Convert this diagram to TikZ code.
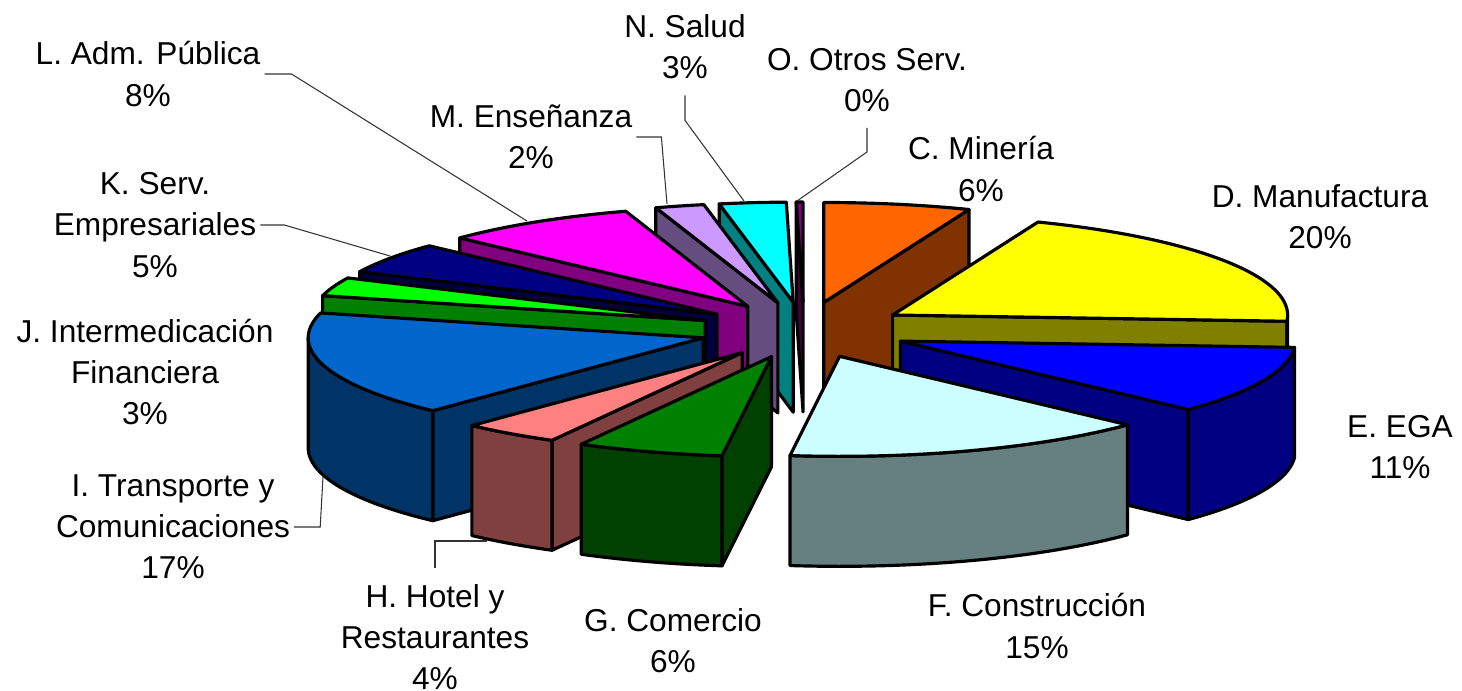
\documentclass[tikz,border=0pt]{standalone}
\usepackage{fontspec}
\setmainfont{Liberation Sans}
\usetikzlibrary{calc}

% slice colours: top face / side face
\definecolor{minTop}{HTML}{FF6600}  \definecolor{minSide}{HTML}{803300}
\definecolor{manTop}{HTML}{FFFF00}  \definecolor{manSide}{HTML}{808000}
\definecolor{egaTop}{HTML}{0000FF}  \definecolor{egaSide}{HTML}{000080}
\definecolor{conTop}{HTML}{CCFFFF}  \definecolor{conSide}{HTML}{668080}
\definecolor{comTop}{HTML}{008000}  \definecolor{comSide}{HTML}{004000}
\definecolor{hotTop}{HTML}{FF8080}  \definecolor{hotSide}{HTML}{804040}
\definecolor{traTop}{HTML}{0066CC}  \definecolor{traSide}{HTML}{003366}
\definecolor{finTop}{HTML}{00FF00}  \definecolor{finSide}{HTML}{008000}
\definecolor{empTop}{HTML}{000080}  \definecolor{empSide}{HTML}{000040}
\definecolor{admTop}{HTML}{FF00FF}  \definecolor{admSide}{HTML}{800080}
\definecolor{ensTop}{HTML}{CC99FF}  \definecolor{ensSide}{HTML}{664D80}
\definecolor{salTop}{HTML}{00FFFF}  \definecolor{salSide}{HTML}{008080}
\definecolor{otrTop}{HTML}{800080}  \definecolor{otrSide}{HTML}{400040}

% apex of an exploded slice, from its two angles
\newcommand{\setapex}[2]{%
  \pgfmathsetmacro{\ox}{804+105*cos((#1+#2)/2)}%
  \pgfmathsetmacro{\oy}{330+28*sin((#1+#2)/2)}}
% cut face of a slice at one angle
\newcommand{\cutface}[2]{%
  \filldraw[pie, fill=#2] (\ox,\oy) -- ++({395*cos(#1)},{100*sin(#1)}) -- ++(0,110) -- (\ox,{\oy+110}) -- cycle;}
% outer wall between two angles
\newcommand{\rimwall}[3]{%
  \filldraw[pie, fill=#3] plot[domain=#1:#2] ({\ox+395*cos(\x)},{\oy+100*sin(\x)})
    -- plot[domain=#2:#1] ({\ox+395*cos(\x)},{\oy+110+100*sin(\x)}) -- cycle;}
% top face between two angles
\newcommand{\topface}[3]{%
  \filldraw[pie, fill=#3] (\ox,\oy) -- plot[domain=#1:#2] ({\ox+395*cos(\x)},{\oy+100*sin(\x)}) -- cycle;}

\begin{document}
\begin{tikzpicture}[
    x=0.01cm, y=-0.01cm,
    % GLOBAL CFG
    font=\fontsize{9}{11.7}\selectfont,
    % Styles
    pie/.style={% outline of every face
        draw=black,
        line width=0.9pt,
        line join=round,
        samples=40,
        },
    lbl/.style={% category and percentage
        align=center,
        inner sep=1pt,
        },
    leader/.style={% thin line from a label to its slice
        draw=black!80,
        line width=0.3pt,
        },
    ]
\useasboundingbox (0,0) rectangle (1462,691);

% Slices, back to front
    % O. Otros Serv.
    \setapex{269}{270}
    \cutface{269}{otrSide}
    \topface{269}{270}{otrTop}
    % N. Salud
    \setapex{259.2}{269}
    \cutface{259.2}{salSide}
    \topface{259.2}{269}{salTop}
    % C. Mineria
    \setapex{-90}{-68.4}
    \cutface{-68.4}{minSide}
    \topface{-90}{-68.4}{minTop}
    % M. Ensenanza
    \setapex{252}{259.2}
    \cutface{252}{ensSide}
    \topface{252}{259.2}{ensTop}
    % L. Adm. Publica
    \setapex{223.2}{252}
    \cutface{223.2}{admSide}
    \topface{223.2}{252}{admTop}
    % K. Serv. Empresariales
    \setapex{205.2}{223.2}
    \cutface{205.2}{empSide}
    \topface{205.2}{223.2}{empTop}
    % D. Manufactura
    \setapex{-68.4}{3.6}
    \cutface{3.6}{manSide}
    \rimwall{0}{3.6}{manSide}
    \topface{-68.4}{3.6}{manTop}
    % J. Intermediacion Financiera
    \setapex{194.4}{205.2}
    \cutface{194.4}{finSide}
    \topface{194.4}{205.2}{finTop}
    % I. Transporte y Comunicaciones
    \setapex{133.2}{194.4}
    \cutface{133.2}{traSide}
    \rimwall{133.2}{180}{traSide}
    \topface{133.2}{194.4}{traTop}
    % E. EGA
    \setapex{3.6}{43.2}
    \cutface{43.2}{egaSide}
    \rimwall{3.6}{43.2}{egaSide}
    \topface{3.6}{43.2}{egaTop}
    % H. Hotel y Restaurantes
    \setapex{118.8}{133.2}
    \cutface{118.8}{hotSide}
    \rimwall{118.8}{133.2}{hotSide}
    \topface{118.8}{133.2}{hotTop}
    % F. Construccion
    \setapex{43.2}{97.2}
    \rimwall{43.2}{97.2}{conSide}
    \topface{43.2}{97.2}{conTop}
    % G. Comercio
    \setapex{97.2}{118.8}
    \cutface{97.2}{comSide}
    \rimwall{97.2}{118.8}{comSide}
    \topface{97.2}{118.8}{comTop}

% Labels
    \node[lbl] (lblC) at (981,169) {C. Minería\\6\%};
    \node[lbl] (lblD) at (1320,217) {D. Manufactura\\20\%};
    \node[lbl] (lblE) at (1400,447) {E. EGA\\11\%};
    \node[lbl] (lblF) at (1037,626) {F. Construcción\\15\%};
    \node[lbl] (lblG) at (673,641) {G. Comercio\\6\%};
    \node[lbl] (lblH) at (435,637) {H. Hotel y\\Restaurantes\\4\%};
    \node[lbl] (lblI) at (173,527) {I. Transporte y\\Comunicaciones\\17\%};
    \node[lbl] (lblJ) at (145,372) {J. Intermedicación\\Financiera\\3\%};
    \node[lbl] (lblK) at (155,225) {K. Serv.\\Empresariales\\5\%};
    \node[lbl] (lblL) at (148,74) {L. Adm. Pública\\8\%};
    \node[lbl] (lblM) at (531,137) {M. Enseñanza\\2\%};
    \node[lbl] (lblN) at (685,47) {N. Salud\\3\%};
    \node[lbl] (lblO) at (867,80) {O. Otros Serv.\\0\%};

% Leader lines
    \coordinate (tipH) at (487,541);
    \coordinate (tipI) at (323,477);
    \coordinate (tipK) at (390,256);
    \coordinate (tipL) at (527,221);
    \coordinate (tipM) at (667,204);
    \coordinate (tipN) at (744,201);
    \coordinate (tipO) at (797,201);
    \draw[leader] (lblH.north) ++(0,-12) -- (lblH.north |- tipH) -- (tipH);
    \draw[leader] (lblI.east) -- ++(26,0) -- (tipI);
    \draw[leader] (lblK.east) -- ++(24,0) -- (tipK);
    \draw[leader] (lblL.east) -- ++(27,0) -- (tipL);
    \draw[leader] (lblM.east) -- ++(25,0) -- (tipM);
    \draw[leader] (lblN.south) ++(0,12) -- ++(0,25) -- (tipN);
    \draw[leader] (lblO.south) ++(0,12) -- ++(0,24) -- (tipO);
\end{tikzpicture}
\end{document}
